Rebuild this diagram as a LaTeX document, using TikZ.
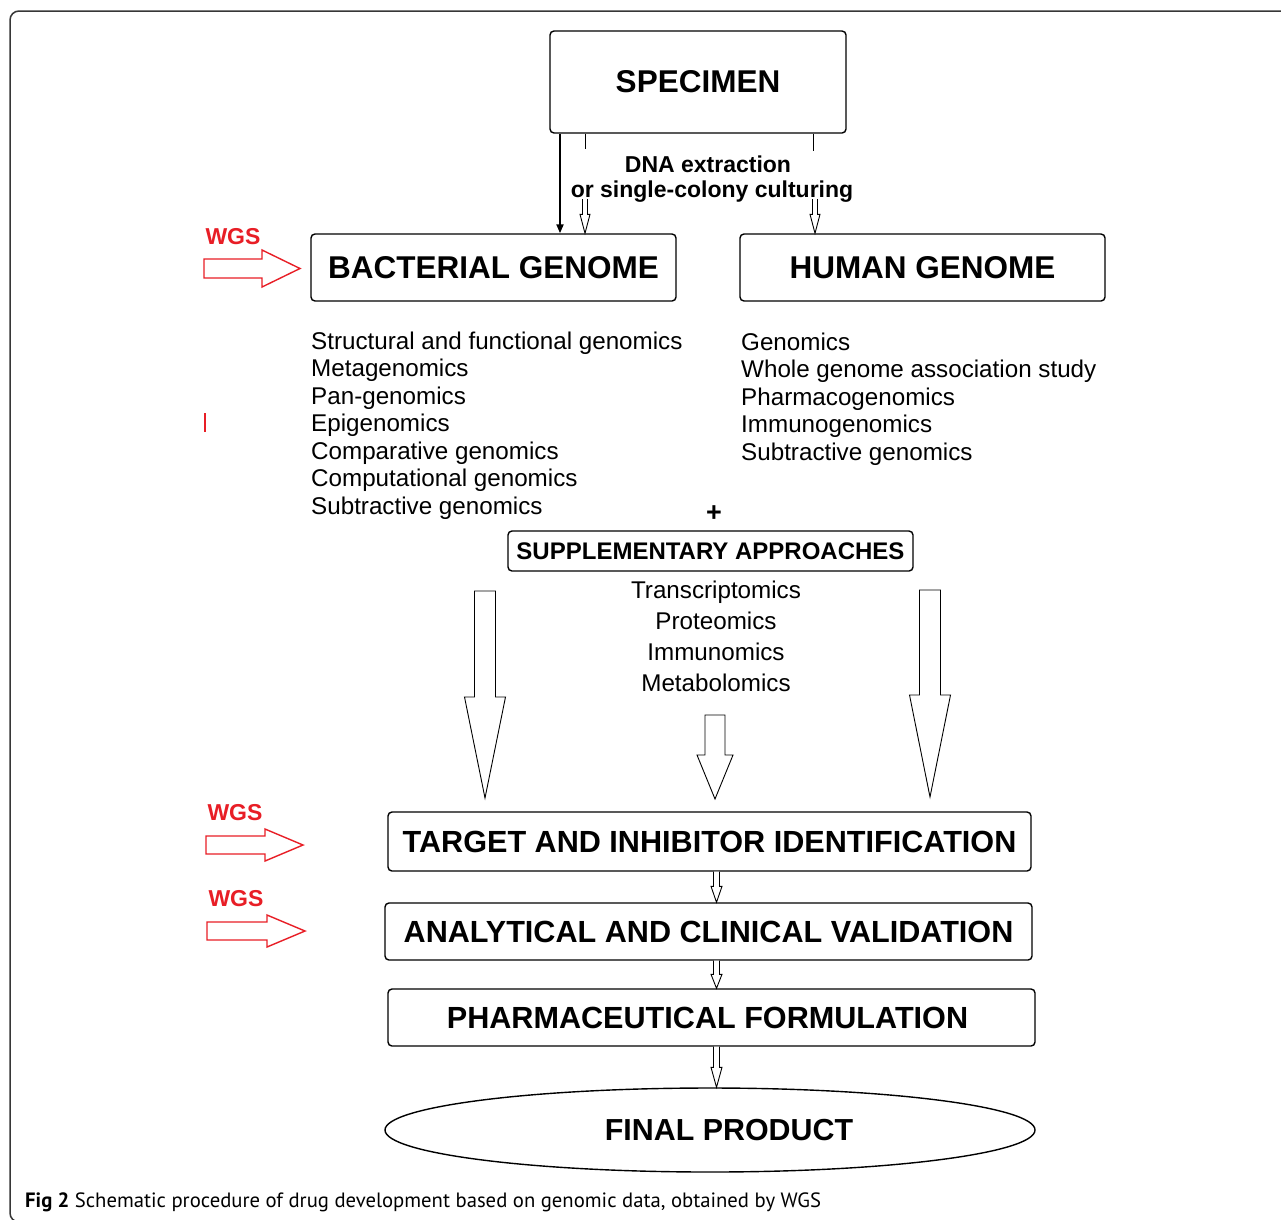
\documentclass[tikz,border=0pt]{standalone}
\usepackage{fontspec}
\setmainfont{Liberation Sans}
\newfontfamily\capfont{PT Sans}
\usetikzlibrary{shapes.geometric,calc,arrows.meta}
\definecolor{wgsred}{RGB}{232,30,38}
\definecolor{framegray}{RGB}{55,55,55}
% hollow arrow from a node's bottom to another node's top at x of coordinate #1
\newcommand{\linkarrow}[4]{%
  \draw[harr] let \p1=(#2.south -| #1), \p2=(#3.north -| #1) in
  (\x1-3pt,\y1) -- (\x1-3pt,\y2+#4pt) -- (\x1-5.5pt,\y2+#4pt) -- (\x1,\y2)
  -- (\x1+5.5pt,\y2+#4pt) -- (\x1+3pt,\y2+#4pt) -- (\x1+3pt,\y1);}
% hollow arrow from a start coordinate down to a node's top
\newcommand{\openarrow}[3]{%
  \draw[harr] let \p1=(#1), \p2=(#2.north -| #1) in
  (\x1-2.5pt,\y1) -- (\x1-2.5pt,\y2+#3pt) -- (\x1-5pt,\y2+#3pt) -- (\x1,\y2)
  -- (\x1+5pt,\y2+#3pt) -- (\x1+2.5pt,\y2+#3pt) -- (\x1+2.5pt,\y1);}
% big block arrow: x, ytop, ybase, ytip, shaft half, head half
\newcommand{\blockdown}[6]{%
  \draw[harr] (#1-#5,#2) -- (#1-#5,#3) -- (#1-#6,#3) -- (#1,#4) -- (#1+#6,#3)
  -- (#1+#5,#3) -- (#1+#5,#2) -- cycle;}
% red WGS arrow: xleft, ycenter, xheadbase, xtip, shaft half, head half
\newcommand{\wgsarrow}[6]{%
  \draw[redarr] (#1,#2-#5) -- (#3,#2-#5) -- (#3,#2-#6) -- (#4,#2) -- (#3,#2+#6)
  -- (#3,#2+#5) -- (#1,#2+#5) -- cycle;}
\begin{document}
\begin{tikzpicture}[x=1pt,y=-1pt,
  box/.style={draw, rounded corners=4pt, line width=1.4pt, inner sep=0pt,
    font=\bfseries\fontsize{30.6}{36}\selectfont},
  bigbox/.style={box, font=\bfseries\fontsize{31.5}{38}\selectfont},
  listtxt/.style={anchor=base west, inner sep=0pt, font=\fontsize{24.2}{28}\selectfont},
  ctxt/.style={anchor=base, inner sep=0pt, font=\fontsize{24.2}{28}\selectfont},
  dnatxt/.style={anchor=base, inner sep=0pt, font=\bfseries\fontsize{23}{28}\selectfont},
  wgs/.style={anchor=base, inner sep=0pt, text=wgsred, font=\bfseries\fontsize{23}{28}\selectfont},
  harr/.style={draw, line width=0.9pt, fill=white, line join=miter},
  redarr/.style={draw=wgsred, line width=1.4pt, line join=miter},
  thickarr/.style={line width=2pt, -{Triangle[length=9pt,width=7pt]}},
]
\useasboundingbox (0,0) rectangle (1281,1219);
\clip (0,0) rectangle (1281,1219);
\fill[white] (0,0) rectangle (1281,1219);
\draw[framegray, line width=1.5pt, rounded corners=9pt] (10,11) rectangle (1320,1222);

% boxes
\node[bigbox, minimum width=296pt, minimum height=102pt] (specimen) at (698,82) {SPECIMEN};
\node[bigbox, minimum width=365pt, minimum height=67pt] (bact) at (493.5,267.5) {\raisebox{-2pt}{BACTERIAL GENOME}};
\node[bigbox, minimum width=365pt, minimum height=67pt] (human) at (922.5,267.5) {\raisebox{-2pt}{HUMAN GENOME}};
\node[box, minimum width=405pt, minimum height=40pt, font=\bfseries\fontsize{24}{28}\selectfont] (supp) at (710.5,551) {SUPPLEMENTARY APPROACHES};
\node[box, minimum width=643pt, minimum height=59pt] (target) at (709.5,841.5) {TARGET AND INHIBITOR IDENTIFICATION};
\node[box, minimum width=647pt, minimum height=57pt] (analyt) at (708.5,931.5) {ANALYTICAL AND CLINICAL VALIDATION};
\node[box, minimum width=647pt, minimum height=57pt] (pharm) at (711.5,1017.5) {\hspace*{-8pt}PHARMACEUTICAL FORMULATION};
\node[draw, ellipse, line width=1.4pt, minimum width=650pt, minimum height=84pt, inner sep=0pt] (final) at (710,1130) {};
\node[inner sep=0pt, font=\bfseries\fontsize{30.4}{36}\selectfont] (finaltxt) at (729,1130) {FINAL PRODUCT};

% DNA extraction text
\node[dnatxt] (dna1) at (708,172) {DNA extraction};
\node[dnatxt] (dna2) at (712,197) {or single-colony culturing};

% coordinates for connector x positions
\coordinate (xa) at (560,0);
\coordinate (xb) at (585,0);
\coordinate (xt) at (813,0);
\coordinate (xc) at (815,0);
\coordinate (xm) at (716.5,0);
\coordinate (sb) at (585,199);
\coordinate (sc) at (815,199);

% connectors from specimen
\draw[thickarr] (specimen.south -| xa) -- (bact.north -| xa);
\draw[line width=1pt] (specimen.south -| xb) -- ++(0,15);
\draw[line width=1pt] (specimen.south -| xt) -- ++(0,17);
\openarrow{sb}{bact}{19}
\openarrow{sc}{human}{19}

% lists
\foreach \t [count=\i] in {Structural and functional genomics, Metagenomics, Pan-genomics, Epigenomics, Comparative genomics, Computational genomics, Subtractive genomics}
  \node[listtxt] (bl\i) at (311,349+27.5*\i-27.5) {\t};
\foreach \t [count=\i] in {Genomics, Whole genome association study, Pharmacogenomics, Immunogenomics, Subtractive genomics}
  \node[listtxt] (hl\i) at (741,350+27.5*\i-27.5) {\t};
\foreach \t [count=\i] in {Transcriptomics, Proteomics, Immunomics, Metabolomics}
  \node[ctxt] (sl\i) at (716,598+31*\i-31) {\t};

\node[inner sep=0pt, font=\bfseries\fontsize{27}{30}\selectfont] (plus) at (714,514) {+};

% big block arrows
\blockdown{485}{591}{697}{798}{10.5}{20.5}
\blockdown{930}{590}{695}{797}{10.5}{20.5}
\blockdown{715}{715}{755}{799}{10}{18}

% links between boxes
\linkarrow{xm}{target}{analyt}{16}
\linkarrow{xm}{analyt}{pharm}{14}
\linkarrow{xm}{pharm}{final}{20}

% WGS labels and red arrows
\node[wgs] (wgs1) at (233,244) {WGS};
\node[wgs] (wgs2) at (235,820) {WGS};
\node[wgs] (wgs3) at (236,906) {WGS};
\wgsarrow{204}{268.5}{262}{300}{9.5}{18.5}
\wgsarrow{206}{845}{265}{303}{9}{16}
\wgsarrow{207}{931}{267}{305}{9}{16}
\draw[wgsred, line width=1.5pt] (205,413) -- (205,432);

% caption
\node[anchor=base west, inner sep=0pt, font=\capfont\fontsize{20.7}{25}\selectfont] (caption) at (25,1207)
  {\textbf{Fig 2} Schematic procedure of drug development based on genomic data, obtained by WGS};
\end{tikzpicture}
\end{document}
